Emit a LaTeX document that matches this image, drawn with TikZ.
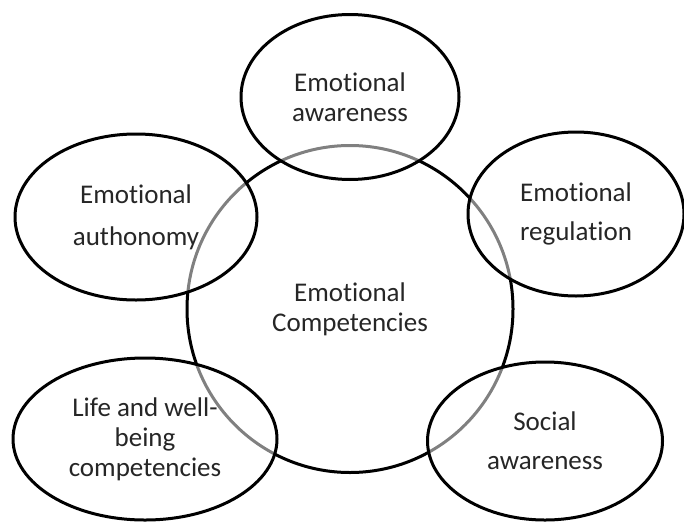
\documentclass[tikz,border=0pt]{standalone}
\usepackage{fontspec}
\setmainfont{Carlito}[Ligatures=NoCommon]
\usetikzlibrary{shapes.geometric}

\tikzset{
  ring/.style={ellipse,draw=black,line width=3pt,inner sep=0pt,align=center,
    text=black!85,font=\fontsize{27}{30}\selectfont},
  part/.style={ring,fill=white,fill opacity=0.5,text opacity=1}
}

\begin{document}
\begin{tikzpicture}[line cap=round,line join=round,x=1pt,y=-1pt]
\clip(0,0) rectangle (684,522);
\node [ring,minimum width=326pt,minimum height=327pt] (core) at (350,309) {Emotional\\Competencies};
\node [part,minimum width=218pt,minimum height=165pt] (aware) at (350,97) {Emotional\\awareness};
\node [part,minimum width=242pt,minimum height=166pt] (auto) at (136,217) {Emotional\\[12pt]authonomy};
\node [part,minimum width=216pt,minimum height=164pt] (regul) at (576,214) {Emotional\\[9pt]regulation};
\node [part,minimum width=264pt,minimum height=162pt] (life) at (145,439) {Life and well-\\being\\competencies};
\node [part,minimum width=235pt,minimum height=158pt] (social) at (545,441) {Social\\[9pt]awareness};
\end{tikzpicture}
\end{document}
